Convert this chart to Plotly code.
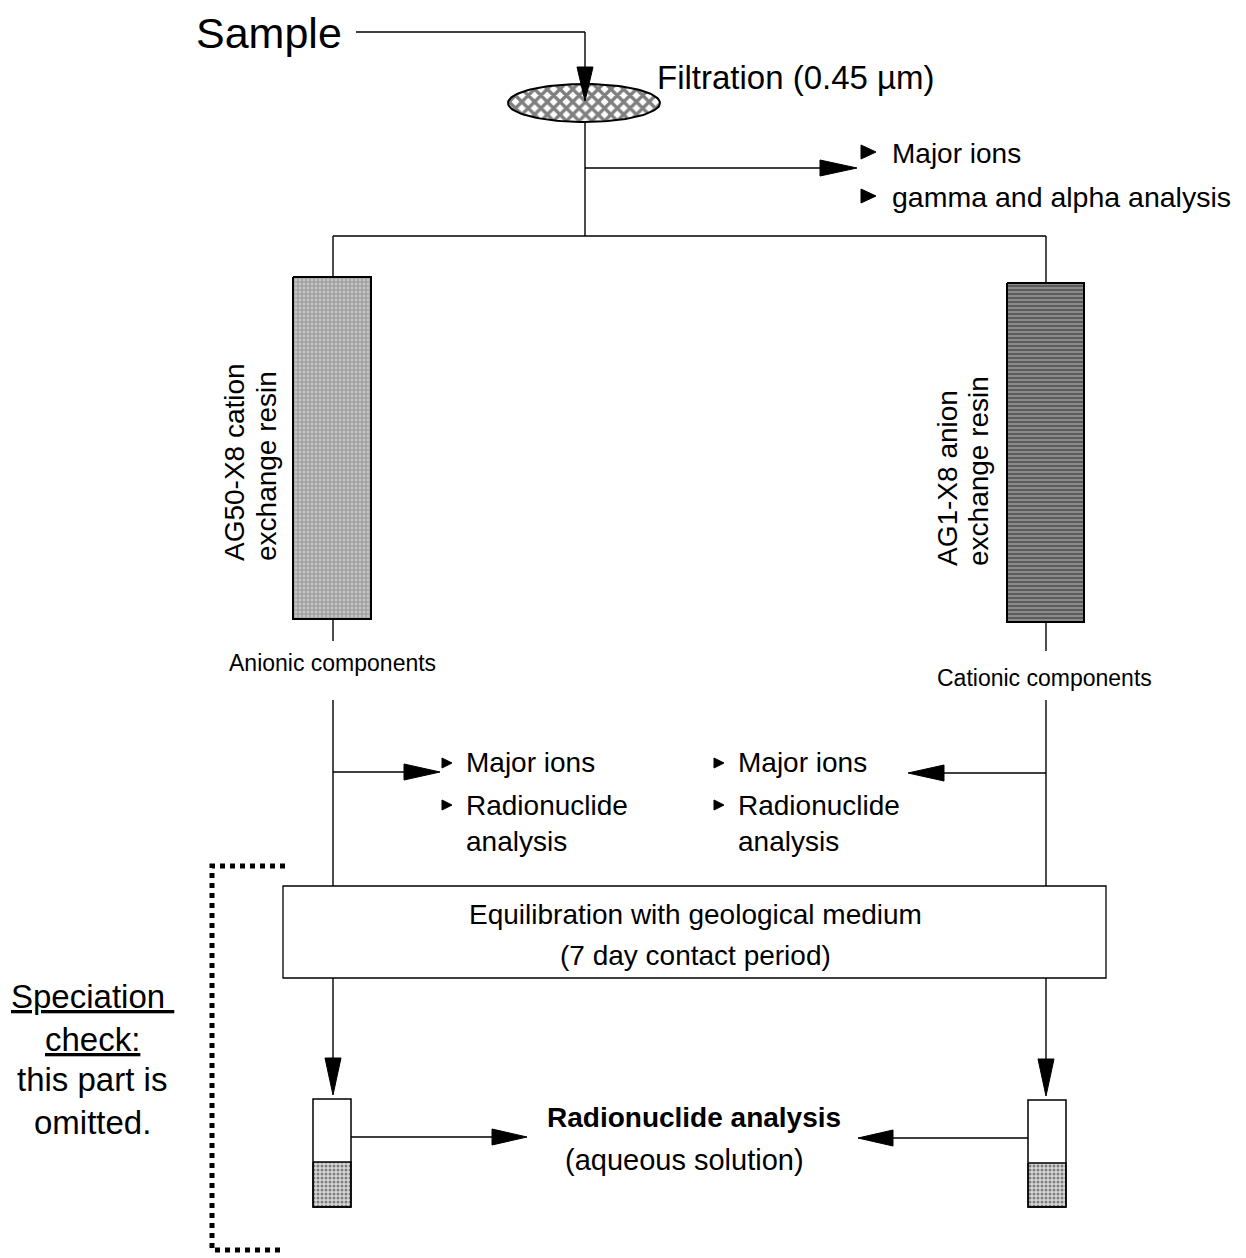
import plotly.graph_objects as go
import numpy as np

# ---- labels / content ----
sample_label = "Sample"
filtration_label = "Filtration (0.45 µm)"
filtrate_outputs = ["Major ions", "gamma and alpha analysis"]
resin_labels_left = ["AG50-X8 cation", "exchange resin"]
resin_labels_right = ["AG1-X8 anion", "exchange resin"]
fraction_labels = ["Anionic components", "Cationic components"]
fraction_outputs = ["Major ions", "Radionuclide", "analysis"]
equilibration_lines = ["Equilibration with geological medium", "(7 day contact period)"]
final_lines = ["<b>Radionuclide analysis</b>", "(aqueous solution)"]
speciation_lines = ["<u>Speciation </u>", "<u>check:</u>", "this part is", "omitted."]

FONT = "Liberation Sans, Arial, sans-serif"
W, H = 1246, 1258

fig = go.Figure()

def line(x0, y0, x1, y1, w=1.4):
    fig.add_shape(type="line", x0=x0, y0=y0, x1=x1, y1=y1, xref="x", yref="y",
                  line=dict(color="black", width=w))

def tri(tipx, tipy, direction, length=36, half=8):
    if direction == "down":
        pts = [(tipx, tipy), (tipx - half, tipy - length), (tipx + half, tipy - length)]
    elif direction == "right":
        pts = [(tipx, tipy), (tipx - length, tipy - half), (tipx - length, tipy + half)]
    else:
        pts = [(tipx, tipy), (tipx + length, tipy - half), (tipx + length, tipy + half)]
    path = "M " + " L ".join(f"{a},{b}" for a, b in pts) + " Z"
    fig.add_shape(type="path", path=path, xref="x", yref="y",
                  fillcolor="black", line=dict(color="black", width=1))

def text(t, x, y, size, xanchor="left", yanchor="middle", angle=0):
    fig.add_annotation(text=t, x=x, y=y, xref="x", yref="y", showarrow=False,
                       xanchor=xanchor, yanchor=yanchor, textangle=angle,
                       borderpad=0, borderwidth=0,
                       font=dict(family=FONT, size=size, color="black"))

def patt_rect(x0, y0, x1, y1, pattern, bw=2):
    fig.add_trace(go.Scatter(x=[x0, x1, x1, x0, x0], y=[y0, y0, y1, y1, y0],
                             mode="lines", fill="toself", fillcolor=pattern.get("bgcolor"),
                             fillpattern=pattern,
                             line=dict(color="black", width=bw), hoverinfo="skip",
                             showlegend=False))

# ---- top: sample -> filtration ----
text(sample_label, 196, 33, 43)
line(356, 32, 585, 32)
line(585, 32, 585, 70)
t = np.linspace(0, 2 * np.pi, 121)
fig.add_trace(go.Scatter(x=584 + 76 * np.cos(t), y=103 + 19 * np.sin(t), mode="lines",
                         fill="toself", fillcolor="white",
                         fillpattern=dict(shape="x", fgcolor="black", bgcolor="white",
                                          size=9, solidity=0.6),
                         line=dict(color="black", width=2), hoverinfo="skip",
                         showlegend=False))
tri(585, 101, "down", length=34, half=8)
text(filtration_label, 657, 77, 33)

line(585, 122, 585, 236)
line(585, 168, 822, 168)
tri(857, 168, "right", length=37, half=8)
for yy in (152, 196):
    tri(876, yy, "right", length=15, half=7)
text(filtrate_outputs[0], 892, 153, 28)
text(filtrate_outputs[1], 892, 197, 28.5)

# ---- split to resins ----
line(333, 236, 1046, 236)
line(333, 236, 333, 277)
line(1046, 236, 1046, 283)
patt_rect(293, 277, 371, 619, dict(shape="+", fgcolor="#4a4a4a", bgcolor="#c4c4c4",
                                   size=4, solidity=0.35))
patt_rect(1007, 283, 1084, 622, dict(shape="-", fgcolor="#2e2e2e", bgcolor="#8a8a8a",
                                     size=4, solidity=0.5))
text(resin_labels_left[0], 234, 561, 28, xanchor="center", yanchor="bottom", angle=-90)
text(resin_labels_left[1], 266, 561, 28, xanchor="center", yanchor="bottom", angle=-90)
text(resin_labels_right[0], 947, 566, 28, xanchor="center", yanchor="bottom", angle=-90)
text(resin_labels_right[1], 978, 566, 28, xanchor="center", yanchor="bottom", angle=-90)

line(333, 619, 333, 641)
line(1046, 622, 1046, 651)
text(fraction_labels[0], 332, 663, 23, xanchor="center")
text(fraction_labels[1], 1044, 678, 23, xanchor="center")

# ---- fraction analyses ----
line(333, 700, 333, 886)
line(1046, 700, 1046, 886)
line(333, 772, 406, 772)
tri(440, 772, "right", length=36, half=8)
line(1046, 773, 942, 773)
tri(908, 773, "left", length=36, half=8)
for bx, tx in ((452, 466), (724, 738)):
    for yy in (763, 805):
        tri(bx, yy, "right", length=10, half=5)
    text(fraction_outputs[0], tx, 762, 28)
    text(fraction_outputs[1], tx, 805, 28)
    text(fraction_outputs[2], tx, 841, 28)

# ---- equilibration box ----
fig.add_shape(type="rect", x0=283, y0=886, x1=1106, y1=978, xref="x", yref="y",
              fillcolor="white", line=dict(color="black", width=1.3))
text(equilibration_lines[0], 695, 914, 28, xanchor="center")
text(equilibration_lines[1], 695, 955, 28, xanchor="center")

line(333, 978, 333, 1060)
tri(333, 1095, "down", length=37, half=8)
line(1046, 978, 1046, 1060)
tri(1046, 1096, "down", length=37, half=8)

# ---- tubes ----
for x0, ytop, ysand in ((313, 1099, 1162), (1028, 1100, 1163)):
    patt_rect(x0, ysand, x0 + 38, 1207, dict(shape=".", fgcolor="#222", bgcolor="#d8d8d8",
                                             size=4, solidity=0.45), bw=1.3)
    fig.add_shape(type="rect", x0=x0, y0=ytop, x1=x0 + 38, y1=1207, xref="x", yref="y",
                  fillcolor="rgba(0,0,0,0)", line=dict(color="black", width=1.5))

line(351, 1137, 494, 1137)
tri(527, 1137, "right", length=35, half=8)
line(1028, 1138, 892, 1138)
tri(858, 1138, "left", length=35, half=8)
text(final_lines[0], 694, 1117, 28, xanchor="center")
text(final_lines[1], 684, 1160, 29, xanchor="center")

# ---- speciation check (dotted bracket) ----
fig.add_trace(go.Scatter(x=[285, 212, 212, 285], y=[866, 866, 1250, 1250], mode="lines",
                         line=dict(color="black", width=5, dash="dot"),
                         hoverinfo="skip", showlegend=False))
for s, yy in zip(speciation_lines, (996, 1039, 1079, 1122)):
    text(s, 92, yy, 33, xanchor="center")

fig.update_layout(
    width=W, height=H, autosize=False,
    margin=dict(l=0, r=0, t=0, b=0),
    paper_bgcolor="white", plot_bgcolor="white",
    xaxis=dict(range=[0, W], visible=False, fixedrange=True),
    yaxis=dict(range=[H, 0], visible=False, fixedrange=True),
    showlegend=False,
)

fig.write_html("out.html", config={"displayModeBar": False},
               post_script="document.body.style.margin='0';document.body.style.overflow='hidden';")
